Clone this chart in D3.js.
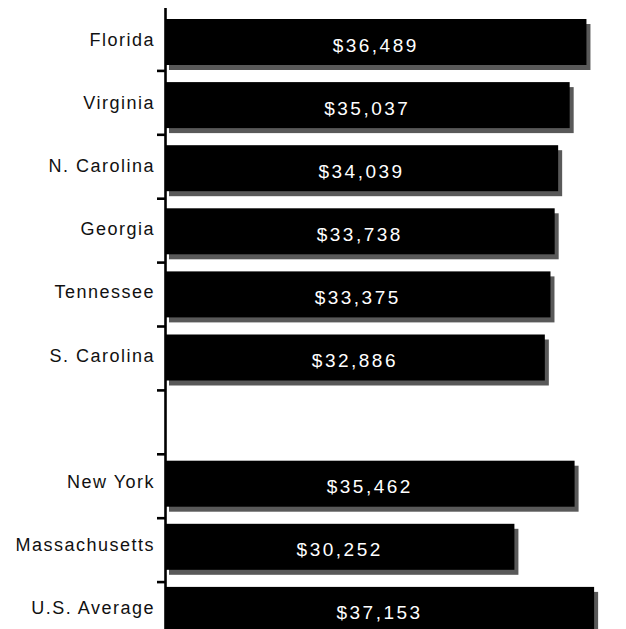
<!DOCTYPE html>
<html>
<head>
<meta charset="utf-8">
<script src="https://cdn.jsdelivr.net/npm/d3@7/dist/d3.min.js"></script>
<style>
  html, body { margin: 0; padding: 0; background: #fff; }
  svg { display: block; }
  text { font-family: "Liberation Sans", Arial, sans-serif; }
</style>
</head>
<body>
<div id="chart"></div>
<script>
// Per-capita income by state; the empty slot separates the two groups.
const categories = ["Florida", "Virginia", "N. Carolina", "Georgia", "Tennessee", "S. Carolina", "", "New York", "Massachusetts", "U.S. Average"];
const values = [36489, 35037, 34039, 33738, 33375, 32886, null, 35462, 30252, 37153];
const valueLabels = ["$36,489", "$35,037", "$34,039", "$33,738", "$33,375", "$32,886", "", "$35,462", "$30,252", "$37,153"];

const width = 626, height = 629;

const svg = d3.select("#chart").append("svg")
  .attr("width", width)
  .attr("height", height);

// Horizontal value scale (zero sits on the category axis).
const x = d3.scaleLinear().domain([0, 40000]).range([165, 627]);

// Category bands used for the axis and its tick marks.
const yAxisScale = d3.scaleBand().domain(categories).range([7, 7 + 10 * 63.9]);

// Category bands used to place the bars and their labels.
const yBar = d3.scaleBand().domain(categories).range([19, 19 + 10 * 63.1]);
const barH = 46;

const rows = categories.map((c, i) => ({ cat: c, value: values[i], label: valueLabels[i] }))
  .filter(d => d.value !== null);

// Drop shadows
svg.append("g").selectAll("rect").data(rows).join("rect")
  .attr("x", x(0) + 4)
  .attr("y", d => yBar(d.cat) + 5)
  .attr("width", d => x(d.value) - x(0))
  .attr("height", barH)
  .attr("fill", "#595959");

// Bars
svg.append("g").selectAll("rect").data(rows).join("rect")
  .attr("x", x(0))
  .attr("y", d => yBar(d.cat))
  .attr("width", d => x(d.value) - x(0))
  .attr("height", barH)
  .attr("fill", "#000");

// Value labels inside the bars
svg.append("g").selectAll("text").data(rows).join("text")
  .attr("x", d => (x(0) + x(d.value)) / 2)
  .attr("y", d => yBar(d.cat) + barH / 2 + 3)
  .attr("text-anchor", "middle")
  .attr("dominant-baseline", "central")
  .attr("fill", "#fff")
  .attr("font-size", 19)
  .attr("letter-spacing", "2.5px")
  .text(d => d.label);

// Category labels
svg.append("g").selectAll("text").data(rows).join("text")
  .attr("x", 155)
  .attr("y", d => yBar(d.cat) + barH / 2 - 2)
  .attr("text-anchor", "end")
  .attr("dominant-baseline", "central")
  .attr("fill", "#111")
  .attr("font-size", 18)
  .attr("letter-spacing", "1.5px")
  .text(d => d.cat);

// Category axis: vertical line with ticks on band boundaries
const axis = svg.append("g");
axis.append("line")
  .attr("x1", 165.5).attr("x2", 165.5)
  .attr("y1", yAxisScale.range()[0] + 1)
  .attr("y2", height)
  .attr("stroke", "#000")
  .attr("stroke-width", 2.6);

const tickYs = categories.slice(0, -1).map(c => yAxisScale(c) + yAxisScale.bandwidth());
axis.selectAll("line.tick").data(tickYs).join("line")
  .attr("class", "tick")
  .attr("x1", 157).attr("x2", 166)
  .attr("y1", d => d).attr("y2", d => d)
  .attr("stroke", "#000")
  .attr("stroke-width", 2.6);
</script>
</body>
</html>
